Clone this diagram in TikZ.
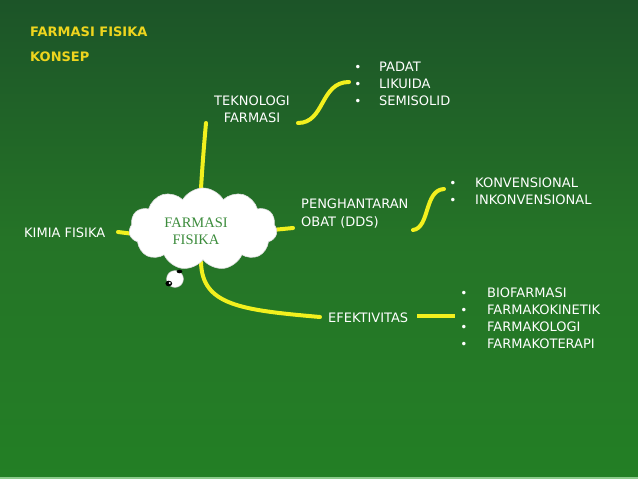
\documentclass[tikz,border=0pt]{standalone}
\usepackage{fontspec}
\setmainfont{DejaVu Sans}
\newfontfamily\cloudfont{Liberation Serif}
\usetikzlibrary{shapes.symbols}
\definecolor{bgtop}{HTML}{1C5428}
\definecolor{bgmid}{HTML}{257427}
\definecolor{bgbot}{HTML}{237F25}
\definecolor{titlecol}{HTML}{EED51E}
\definecolor{linecol}{HTML}{F2F01E}
\definecolor{cloudtext}{HTML}{3C8C3C}
\definecolor{edgeline}{HTML}{8CCB8C}
\tikzset{
  titletext/.style={font=\bfseries\fontsize{13}{15}\selectfont, text=titlecol, inner sep=0pt, anchor=base west},
  wtext/.style={font=\fontsize{13}{17}\selectfont, text=white, inner sep=0pt, anchor=base west},
  wbullet/.style={font=\fontsize{12}{17}\selectfont, text=white, inner sep=0pt, anchor=base},
  yline/.style={draw=linecol, line width=4pt, line cap=round},
}
\begin{document}
\begin{tikzpicture}[x=1pt,y=-1pt]
\useasboundingbox (0,0) rectangle (638,479);
\shade[top color=bgtop, bottom color=bgbot, middle color=bgmid] (0,0) rectangle (638,479);
\fill[edgeline] (0,477) rectangle (638,479);

% titles
\node[titletext] (t1) at (30,36) {FARMASI FISIKA};
\node[titletext] (t2) at (30,61) {KONSEP};

% coordinates for connectors
\coordinate (kimR) at (118,232);
\coordinate (kimC) at (150,236);
\coordinate (ddsL) at (293,228);
\coordinate (cloudR) at (262,231);
\coordinate (tekB) at (206,123);
\coordinate (cloudT) at (200,205);
\coordinate (tekR) at (298,123);
\coordinate (listA) at (349,82);
\coordinate (ddsR) at (413,230);
\coordinate (listB) at (444,189);
\coordinate (cloudB) at (201,262);
\coordinate (efL) at (320,317);
\coordinate (efR) at (417,316);
\coordinate (listC) at (455,316);

% connectors
\draw[yline] (kimR) -- (kimC);
\draw[yline] (cloudR) -- (ddsL);
\draw[yline] (cloudT) .. controls (202,170) and (204,145) .. (tekB);
\draw[yline] (tekR) .. controls (325,123) and (320,82) .. (listA);
\draw[yline] (ddsR) .. controls (430,228) and (424,190) .. (listB);
\draw[yline] (cloudB) .. controls (202,305) and (240,310) .. (efL);
\draw[yline, line cap=butt] (efR) -- (listC);

% thought bubble
\node[circle, fill=white, draw=black!25, minimum size=17pt, inner sep=0pt] (bub) at (175,279) {};
\fill[black] (168.8,283.5) ellipse (3.4pt and 2.8pt);
\fill[black] (179.5,271.5) ellipse (2.8pt and 1.8pt);
\fill[white] (169.8,283) circle (1.1pt);

% cloud
\node[cloud, cloud puffs=11, cloud puff arc=120, aspect=1.8, minimum width=148pt, minimum height=82pt,
      fill=white, draw=black!12, line width=0.6pt] (cloud) at (203,229) {};
\node[font=\cloudfont\fontsize{14.5}{17}\selectfont, text=cloudtext, align=center, inner sep=0pt] (ff) at (196,231) {FARMASI\\FISIKA};

% main topics
\node[wtext] (kimia) at (24,237) {KIMIA FISIKA};
\node[wtext, align=center, anchor=base] (tek) at (252,122) {TEKNOLOGI\\FARMASI};
\node[wtext, align=left] (dds) at (301,226) {PENGHANTARAN\\[1pt]OBAT (DDS)};
\node[wtext] (ef) at (328,322) {EFEKTIVITAS};

% lists
\node[wbullet] (b1) at (358,71) {•};
\node[wbullet] (b2) at (358,88) {•};
\node[wbullet] (b3) at (358,105) {•};
\node[wtext] (l1) at (379,71) {PADAT};
\node[wtext] (l2) at (379,88) {LIKUIDA};
\node[wtext] (l3) at (379,105) {SEMISOLID};

\node[wbullet] (b4) at (453,187) {•};
\node[wbullet] (b5) at (453,204) {•};
\node[wtext] (l4) at (475,187) {KONVENSIONAL};
\node[wtext] (l5) at (475,204) {INKONVENSIONAL};

\node[wbullet] (b6) at (464,297) {•};
\node[wbullet] (b7) at (464,314) {•};
\node[wbullet] (b8) at (464,331) {•};
\node[wbullet] (b9) at (464,348) {•};
\node[wtext] (l6) at (487,297) {BIOFARMASI};
\node[wtext] (l7) at (487,314) {FARMAKOKINETIK};
\node[wtext] (l8) at (487,331) {FARMAKOLOGI};
\node[wtext] (l9) at (487,348) {FARMAKOTERAPI};
\end{tikzpicture}
\end{document}
